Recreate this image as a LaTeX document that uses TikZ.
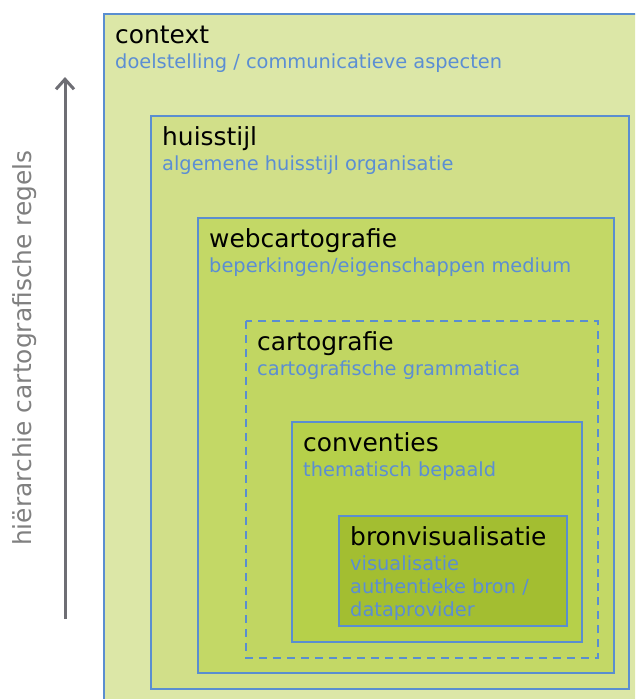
\documentclass[tikz,border=0pt]{standalone}
\usepackage{fontspec}
\setmainfont{DejaVu Sans}
\usetikzlibrary{arrows.meta}
\definecolor{bordblue}{HTML}{5A8ED0}
\definecolor{subblue}{HTML}{5B8ED3}
\definecolor{fA}{HTML}{DCE7A7}
\definecolor{fB}{HTML}{D1DF89}
\definecolor{fC}{HTML}{C3D866}
\definecolor{fD}{HTML}{C1D662}
\definecolor{fE}{HTML}{B6D04A}
\definecolor{fF}{HTML}{A3BE31}
\definecolor{arrgray}{HTML}{6E6E74}
\definecolor{lblgray}{HTML}{808080}
\tikzset{
  layer/.style={draw=bordblue, line width=1.4pt},
  ttl/.style={anchor=base west, inner sep=0pt, font=\fontsize{24.9}{28}\selectfont, text=black},
  sub/.style={anchor=base west, inner sep=0pt, font=\fontsize{19.4}{23}\selectfont, text=subblue},
}
\begin{document}
\begin{tikzpicture}[x=1pt,y=-1pt]
\useasboundingbox (0,0) rectangle (635,699);
\clip (0,0) rectangle (635,699);
\fill[white] (0,0) rectangle (635,699);
% layers
\draw[layer, fill=fA] (104,14) rectangle (645,710);
\draw[layer, fill=fB] (151,116) rectangle (629,689);
\draw[layer, fill=fC] (198,218) rectangle (614,673);
\draw[layer, fill=fD, dash pattern=on 8pt off 6pt] (246,321) rectangle (598,658);
\draw[layer, fill=fE] (292,422) rectangle (582,642);
\draw[layer, fill=fF] (339,516) rectangle (567,626);
% texts
\node[ttl] (t1) at (115,43) {context};
\node[sub] (s1) at (115,68) {doelstelling / communicatieve aspecten};
\node[ttl] (t2) at (162,145) {huisstijl};
\node[sub] (s2) at (162,170) {algemene huisstijl organisatie};
\node[ttl] (t3) at (209,247) {webcartografie};
\node[sub] (s3) at (209,272) {beperkingen/eigenschappen medium};
\node[ttl] (t4) at (257,350) {cartografie};
\node[sub] (s4) at (257,375) {cartografische grammatica};
\node[ttl] (t5) at (303,451) {conventies};
\node[sub] (s5) at (303,476) {thematisch bepaald};
\node[ttl] (t6) at (350,545) {bronvisualisatie};
\node[sub] (s6a) at (350,570) {visualisatie};
\node[sub] (s6b) at (350,593) {authentieke bron /};
\node[sub] (s6c) at (350,616) {dataprovider};
% arrow
\coordinate (abot) at (65,619);
\coordinate (atop) at (65,77);
\draw[arrgray, line width=3pt, -{Straight Barb[length=10pt,width=18pt]}] (abot) -- (atop);
\node[rotate=90, anchor=base, inner sep=0pt, text=lblgray, font=\fontsize{24.9}{28}\selectfont] (lbl) at (31,348) {hiërarchie cartografische regels};
\end{tikzpicture}
\end{document}
